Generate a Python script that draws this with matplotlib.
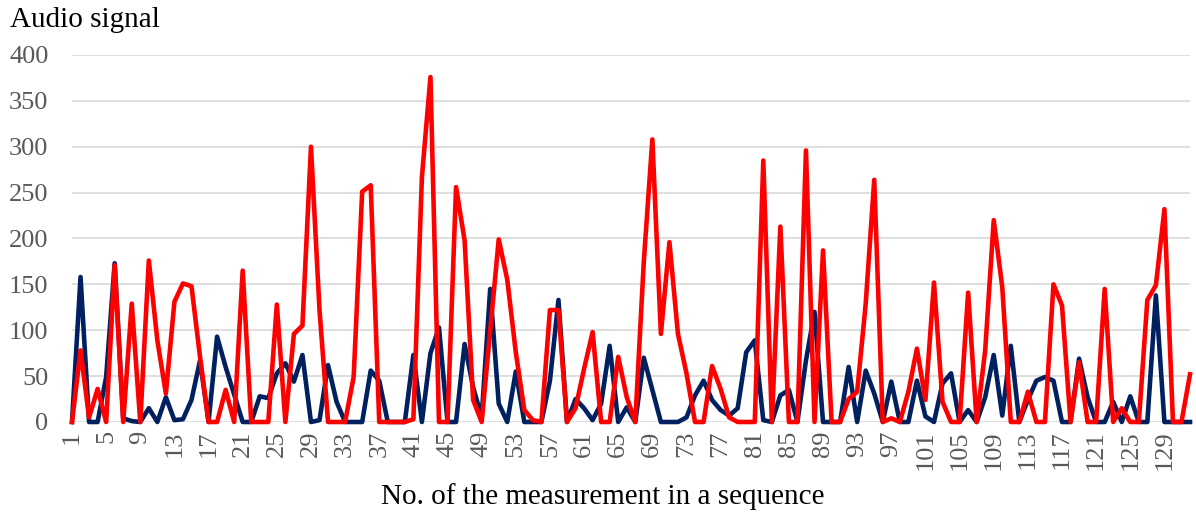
import matplotlib.pyplot as plt
import numpy as np

# --- Data ---
blue_values = [
    0, 158, 0, 0, 49, 173, 4, 1, 0, 15,
    0, 27, 2, 3, 24, 67, 0, 93, 60, 30,
    0, 0, 28, 26, 53, 64, 44, 73, 0, 2,
    62, 22, 0, 0, 0, 56, 45, 0, 0, 0,
    73, 0, 75, 103, 0, 0, 85, 38, 5, 145,
    20, 0, 55, 0, 0, 0, 45, 133, 0, 25,
    15, 2, 20, 83, 0, 16, 0, 70, 35, 0,
    0, 0, 5, 29, 45, 24, 13, 7, 15, 76,
    89, 2, 0, 29, 35, 0, 67, 120, 0, 0,
    0, 60, 0, 56, 31, 0, 44, 0, 0, 45,
    6, 0, 42, 53, 0, 13, 0, 27, 73, 7,
    83, 0, 24, 45, 49, 45, 0, 0, 69, 27,
    0, 0, 22, 0, 28, 0, 0, 138, 0, 0,
    0, 0,
]
red_values = [
    0, 78, 5, 36, 0, 171, 0, 129, 0, 176,
    89, 31, 131, 151, 148, 71, 0, 0, 35, 0,
    165, 0, 0, 0, 128, 0, 96, 105, 300, 122,
    0, 0, 0, 49, 251, 258, 0, 0, 0, 0,
    3, 267, 376, 0, 0, 256, 198, 24, 0, 100,
    199, 155, 76, 13, 2, 0, 122, 122, 0, 15,
    58, 98, 0, 0, 71, 27, 0, 175, 308, 96,
    196, 96, 53, 0, 0, 61, 36, 5, 0, 0,
    0, 285, 0, 213, 0, 0, 296, 0, 187, 0,
    0, 25, 33, 129, 264, 0, 4, 0, 33, 80,
    24, 152, 22, 0, 0, 141, 0, 78, 220, 147,
    0, 0, 33, 0, 0, 150, 127, 0, 65, 0,
    0, 145, 0, 15, 0, 0, 133, 149, 232, 0,
    0, 52,
]
x = np.arange(1, len(blue_values) + 1)
x_ticks = np.arange(1, 130, 4)

plt.rcParams.update({
    "font.family": ["Liberation Serif", "DejaVu Serif"],
})

fig = plt.figure(figsize=(11.96, 5.12), dpi=100)
ax = fig.add_axes([0.0602, 0.1758, 0.9348, 0.7168])

ax.plot(x, blue_values, color="#002060", linewidth=3.3, solid_joinstyle="round",
        clip_on=False, zorder=3)
ax.plot(x, red_values, color="#FF0000", linewidth=3.3, solid_joinstyle="round",
        clip_on=False, zorder=4)

ax.set_xlim(1, len(x))
ax.set_ylim(0, 400)
ax.set_yticks(np.arange(0, 401, 50))
ax.set_xticks(x_ticks)
ax.set_xticklabels([str(t) for t in x_ticks], rotation=90)

ax.tick_params(axis="both", length=0, labelsize=19, labelcolor="#595959")
ax.tick_params(axis="y", pad=17)
ax.tick_params(axis="x", pad=6)

# grid + clean spines
ax.grid(True, axis="y", color="#D9D9D9", linewidth=1.2)
ax.grid(False, axis="x")
ax.set_axisbelow(True)
for side in ["top", "right", "left", "bottom"]:
    ax.spines[side].set_visible(False)

fig.text(10 / 1196, 1 - 20 / 512, "Audio signal", fontsize=21, ha="left", va="center")
fig.text(603 / 1196, 1 - 497 / 512, "No. of the measurement in a sequence",
         fontsize=21, ha="center", va="center")

fig.savefig("out.png", dpi=100)
